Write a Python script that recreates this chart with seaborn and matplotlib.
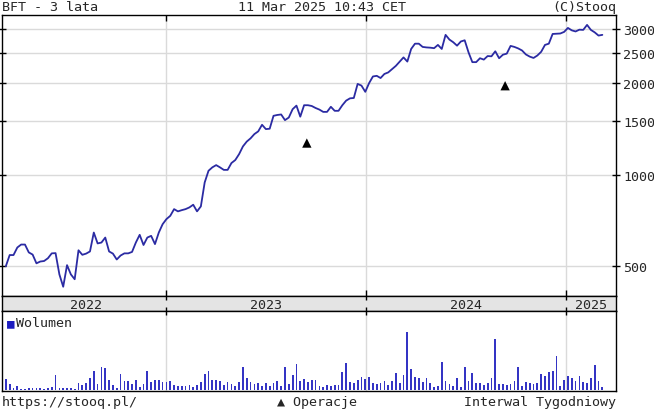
import pandas as pd
import matplotlib
matplotlib.use("Agg")
import matplotlib.pyplot as plt
from matplotlib.ticker import NullLocator
import seaborn as sns

# weekly closes (first week 2022-03-13)
first_week = "2022-03-13"
price = [
    501, 545, 545, 577, 590, 590, 556, 547, 512, 519,
    521, 532, 552, 553, 471, 429, 505, 471, 454, 565,
    546, 551, 560, 646, 595, 599, 622, 560, 551, 527,
    543, 552, 552, 558, 599, 635, 588, 622, 630, 592,
    646, 688, 715, 733, 771, 758, 765, 771, 781, 797, 758,
    787, 943, 1030, 1057, 1075, 1057, 1037, 1037, 1092, 1117,
    1168, 1238, 1284, 1316, 1359, 1387, 1458, 1411, 1415, 1560,
    1570, 1576, 1510, 1540, 1640, 1685, 1550, 1690, 1690, 1680,
    1655, 1635, 1607, 1607, 1670, 1620, 1620, 1690, 1750, 1780,
    1785, 1985, 1960, 1870, 1997, 2100, 2110, 2075, 2140, 2165,
    2220, 2275, 2350, 2425, 2350, 2585, 2690, 2690, 2625, 2615, 2610,
    2600, 2665, 2585, 2875, 2775, 2720, 2650, 2735, 2760, 2520, 2340, 2340, 2410, 2385,
    2450, 2445, 2540, 2410, 2475, 2495, 2645, 2625, 2595, 2555,
    2480, 2440, 2415, 2460, 2530, 2665, 2690, 2895, 2900, 2905,
    2940, 3030, 2975, 2950, 2990, 2985, 3100, 2985, 2930, 2860, 2875,
]
volume = [
    11, 6, 2, 4, 1, 1, 2, 2, 2, 2,
    1, 2, 3, 15, 2, 2, 2, 2, 1, 7,
    5, 7, 12, 19, 6, 23, 22, 10, 5, 2,
    16, 9, 9, 6, 10, 3, 6, 19, 8, 10,
    10, 8, 8, 9, 5, 4, 4, 4, 5, 3,
    5, 8, 16, 19, 10, 10, 9, 5, 8, 6,
    4, 8, 23, 12, 8, 6, 7, 4, 7, 4,
    7, 9, 4, 23, 6, 15, 26, 9, 11, 8,
    10, 10, 4, 3, 5, 4, 5, 5, 18, 27,
    8, 7, 10, 13, 11, 13, 7, 6, 7, 9,
    5, 9, 17, 7, 15, 58, 21, 13, 12, 8,
    12, 7, 3, 4, 28, 9, 6, 4, 12, 3,
    23, 9, 17, 7, 7, 5, 7, 12, 51, 6,
    6, 5, 6, 9, 23, 4, 8, 7, 6, 7,
    16, 14, 18, 19, 34, 4, 10, 14, 12, 9,
    14, 8, 7, 12, 25, 9, 3,
]
trade_dates = ["2023-09-15", "2024-09-12"]
trade_price = [1270, 1958]
years = ["2022", "2023", "2024", "2025"]
price_ticks = [500, 1000, 1500, 2000, 2500, 3000]

sns.set_theme(style="white")
plt.rcParams["font.family"] = ["DejaVu Sans Mono", "DejaVu Sans"]
FS = 9.6
plt.rcParams["font.size"] = FS

LINE = "#2b2ba3"
GRID = "#dadada"

dates = pd.date_range(first_week, periods=len(price), freq="7D")
df = pd.DataFrame({"date": dates, "price": price, "volume": volume})
trades = pd.DataFrame({"date": pd.to_datetime(trade_dates), "price": trade_price})

x0, x1 = pd.Timestamp("2022-03-06"), pd.Timestamp("2025-04-03")
bounds = [pd.Timestamp(f"{y}-01-01") for y in years[1:]]

fig = plt.figure(figsize=(6.54, 4.14), dpi=100)
ax = fig.add_axes([0.0031, 0.2826, 0.9388, 0.6787])
band = fig.add_axes([0.0031, 0.2464, 0.9388, 0.0362])
axv = fig.add_axes([0.0031, 0.0531, 0.9388, 0.1932])

# price panel
sns.lineplot(data=df, x="date", y="price", ax=ax, color=LINE, lw=1.3)
sns.scatterplot(data=trades, x="date", y="price", ax=ax, marker="^",
                color="black", s=45, edgecolor="none", zorder=5)
ax.set_yscale("log")
ax.set_ylim(400, 3340)
ax.set_xlim(x0, x1)
ax.set_yticks(price_ticks)
ax.set_yticklabels([str(t) for t in price_ticks])
ax.yaxis.set_minor_locator(NullLocator())
ax.set_xticks(bounds)
ax.xaxis.set_minor_locator(NullLocator())
ax.grid(True, color=GRID, lw=1)
ax.tick_params(axis="y", left=True, right=True, labelleft=False, labelright=True,
               direction="inout", length=6, width=1, color="black", pad=2, labelsize=FS)
ax.tick_params(axis="x", top=True, bottom=True, labelbottom=False,
               direction="in", length=4, width=1, color="black")
ax.set_xlabel("")
ax.set_ylabel("")

# year band
band.set_facecolor("#e4e4e4")
band.set_xlim(x0, x1)
band.set_ylim(0, 1)
band.set_xticks(bounds)
band.set_yticks([])
band.tick_params(axis="x", top=True, bottom=True, labelbottom=False,
                 direction="in", length=3, width=1, color="black")
edges = [dates[0]] + bounds + [x1]
for i, y in enumerate(years):
    mid = edges[i] + (edges[i + 1] - edges[i]) / 2
    band.text(mid, 0.45, y, ha="center", va="center", fontsize=FS)

# volume panel
axv.bar(df["date"], df["volume"], width=3.2, color="#3434c4", linewidth=0)
axv.set_xlim(x0, x1)
axv.set_ylim(-1, 79)
axv.set_xticks(bounds)
axv.xaxis.set_minor_locator(NullLocator())
axv.set_yticks([])
axv.grid(True, axis="x", color=GRID, lw=1)
axv.tick_params(axis="x", top=True, bottom=False, labelbottom=False,
                direction="in", length=3, width=1, color="black")

for a in (ax, band, axv):
    for s in a.spines.values():
        s.set_color("black")
        s.set_linewidth(1)

# texts
fig.text(0.003, 0.983, "BFT - 3 lata", ha="left", va="center")
fig.text(0.492, 0.983, "11 Mar 2025 10:43 CET", ha="center", va="center")
fig.text(0.942, 0.983, "(C)Stooq", ha="right", va="center")
fig.text(0.011, 0.219, "■", ha="left", va="center", color="#1c1cc0", fontsize=9)
fig.text(0.024, 0.219, "Wolumen", ha="left", va="center")
fig.text(0.003, 0.027, "https://stooq.pl/", ha="left", va="center")
fig.text(0.485, 0.027, "▲ Operacje", ha="center", va="center")
fig.text(0.942, 0.027, "Interwal Tygodniowy", ha="right", va="center")

fig.savefig("out.png", dpi=100, facecolor="white")
